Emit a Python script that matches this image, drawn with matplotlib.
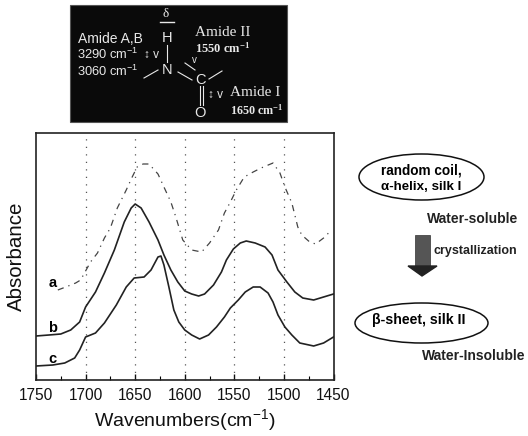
import numpy as np
import matplotlib.pyplot as plt
from matplotlib.patches import Ellipse, Rectangle, Polygon

plt.rcParams['font.family'] = ['Liberation Sans', 'DejaVu Sans']
plt.rcParams['mathtext.fontset'] = 'custom'
plt.rcParams['mathtext.rm'] = 'Liberation Sans'
plt.rcParams['mathtext.default'] = 'regular'

# wavenumber / absorbance (arbitrary units)
wn_a = [1728, 1720, 1710, 1705, 1695, 1688, 1681, 1675, 1668, 1659, 1653, 1648, 1642, 1636, 1627, 1621, 1614, 1609, 1602,
        1593, 1583, 1575, 1566, 1560, 1554, 1548, 1540, 1531, 1523, 1511, 1504, 1499, 1492, 1486, 1482, 1474, 1468, 1460, 1455]
abs_a = [90, 93, 97, 100, 118, 127, 142, 152, 172, 190, 203, 213, 216, 216, 206, 193, 178, 163, 140,
         130, 128, 137, 150, 167, 178, 190, 203, 208, 212, 217, 207, 193, 177, 153, 145, 138, 136, 142, 147]

wn_b = [1750, 1737, 1725, 1715, 1706, 1700, 1690, 1681, 1671, 1661, 1654, 1650, 1644, 1636, 1627, 1621, 1614, 1607,
        1600, 1593, 1586, 1580, 1571, 1563, 1558, 1551, 1544, 1538, 1529, 1519, 1512, 1506, 1497, 1489, 1481, 1470, 1460, 1450]
abs_b = [44, 45, 46, 50, 58, 73, 88, 107, 130, 158, 172, 176, 172, 158, 140, 125, 110, 98,
         89, 86, 84, 86, 95, 108, 120, 131, 137, 139, 137, 133, 125, 110, 98, 88, 82, 80, 83, 86]

wn_c = [1750, 1733, 1721, 1711, 1706, 1700, 1690, 1681, 1669, 1659, 1651, 1641, 1634, 1627, 1624, 1621, 1616, 1611, 1606,
        1600, 1593, 1585, 1576, 1568, 1560, 1554, 1546, 1539, 1531, 1524, 1516, 1511, 1506, 1499, 1492, 1484, 1470, 1460, 1450]
abs_c = [14, 15, 17, 22, 30, 43, 47, 57, 75, 93, 102, 103, 110, 123, 124, 115, 93, 70, 58,
         50, 45, 41, 45, 53, 63, 72, 80, 88, 93, 93, 87, 78, 65, 53, 45, 37, 34, 37, 43]

xticks = [1750, 1700, 1650, 1600, 1550, 1500, 1450]
minor_ticks = [1725, 1675, 1625, 1575, 1525, 1475]
guides = [1700, 1650, 1600, 1550, 1500]
W, H = 528, 436

fig = plt.figure(figsize=(5.28, 4.36), dpi=100)
ax = fig.add_axes([36/W, 1-380/H, 297.5/W, 247/H])

for g in guides:
    ax.vlines(g, 0, 247, color='#555555', linestyle=(0, (1, 5)), linewidth=0.9)
ax.plot(wn_a, abs_a, color='#444444', linestyle=(0, (5, 4, 1, 4)), linewidth=0.9)
ax.plot(wn_b, abs_b, color='#222222', linewidth=1.2)
ax.plot(wn_c, abs_c, color='#222222', linewidth=1.2)

ax.set_xlim(1750, 1450)
ax.set_ylim(0, 247)
ax.set_xticks(xticks)
ax.set_xticks(minor_ticks, minor=True)
ax.set_yticks([])
ax.tick_params(axis='x', which='major', direction='in', length=4, width=1, labelsize=11.2, pad=6, colors='#111111')
ax.tick_params(axis='x', which='minor', direction='in', length=3, width=0.8)
for s in ax.spines.values():
    s.set_linewidth(1.2)
    s.set_color('#222222')
ax.set_xlabel('Wavenumbers(cm$^{-1}$)', fontsize=14, labelpad=3, color='#111111')
ax.set_ylabel('Absorbance', fontsize=14.8, labelpad=7, color='#111111')
ax.text(1733, 97, 'a', fontsize=10.5, fontweight='bold', ha='center', va='center')
ax.text(1733, 52, 'b', fontsize=10.5, fontweight='bold', ha='center', va='center')
ax.text(1733, 21, 'c', fontsize=10.5, fontweight='bold', ha='center', va='center')

# overlay in pixel coordinates for the inset and the scheme
ov = fig.add_axes([0, 0, 1, 1])
ov.set_xlim(0, W)
ov.set_ylim(H, 0)
ov.axis('off')
ov.patch.set_alpha(0)

# molecule inset
ov.add_patch(Rectangle((70, 5), 217, 117, facecolor='#0a0a0a', edgecolor='#555555', linewidth=0.8))
wht = '#e8e8e8'
ov.text(166, 14, 'δ', color=wht, fontsize=9.5, ha='center', va='center', family='Liberation Serif')
ov.plot([160, 174], [22.5, 22.5], color=wht, linewidth=1)
ov.text(167, 38, 'H', color=wht, fontsize=10.5, ha='center', va='center')
ov.text(167, 70, 'N', color=wht, fontsize=10.5, ha='center', va='center')
ov.text(200, 80, 'C', color=wht, fontsize=10.5, ha='center', va='center')
ov.text(200, 113, 'O', color=wht, fontsize=10.5, ha='center', va='center')
ov.text(78, 39, 'Amide A,B', color=wht, fontsize=10, va='center')
ov.text(77, 54, '3290 cm$^{-1}$', color=wht, fontsize=9.3, va='center')
ov.text(77, 71, '3060 cm$^{-1}$', color=wht, fontsize=9.3, va='center')
ov.text(151, 55, '↕ v', color=wht, fontsize=8.5, va='center', ha='center')
ov.text(195, 32, 'Amide II', color=wht, fontsize=11, va='center', family='Liberation Serif')
ov.text(195, 48, '1550 cm$^{-1}$', color=wht, fontsize=9, va='center', fontweight='bold', family='Liberation Serif')
ov.text(230, 93, 'Amide I', color=wht, fontsize=11, va='center', family='Liberation Serif')
ov.text(230, 110, '1650 cm$^{-1}$', color=wht, fontsize=8.7, va='center', fontweight='bold', family='Liberation Serif')
ov.text(216, 95, '↕ v', color=wht, fontsize=8.5, va='center', ha='center')
ov.text(194, 60, 'v', color=wht, fontsize=7, va='center', ha='center')
ov.plot([167, 167], [45, 62], color=wht, linewidth=0.8)
ov.plot([144, 158], [78, 70], color=wht, linewidth=0.8)
ov.plot([178, 192], [72, 80], color=wht, linewidth=0.8)
ov.plot([209, 222], [79, 71], color=wht, linewidth=0.8)
ov.plot([185, 195], [63, 70], color=wht, linewidth=0.8)
ov.plot([200, 200], [86, 105], color=wht, linewidth=0.8)
ov.plot([203, 203], [86, 105], color=wht, linewidth=0.8)

# crystallization scheme
ov.add_patch(Ellipse((421.5, 177), 125, 46, facecolor='white', edgecolor='#111111', linewidth=1.1))
ov.text(421, 170, 'random coil,', fontsize=9.8, fontweight='bold', ha='center', va='center')
ov.text(421, 187, 'α-helix, silk I', fontsize=9.6, fontweight='bold', ha='center', va='center')
ov.text(473, 219, 'Water-soluble', fontsize=10, fontweight='bold', ha='center', va='center', color='#222222')
ov.add_patch(Rectangle((415, 235), 15, 31, facecolor='#555555', edgecolor='#333333', linewidth=0.5))
ov.add_patch(Polygon([(408, 266), (437, 266), (422, 276)], facecolor='#222222', edgecolor='#222222'))
ov.text(433, 251, 'crystallization', fontsize=9, fontweight='bold', va='center', color='#222222')
ov.add_patch(Ellipse((421.5, 323), 133, 40, facecolor='white', edgecolor='#111111', linewidth=1.1))
ov.text(419, 320, 'β-sheet, silk II', fontsize=10.2, fontweight='bold', ha='center', va='center')
ov.text(474, 356, 'Water-Insoluble', fontsize=10, fontweight='bold', ha='center', va='center', color='#222222')

plt.savefig('out.png', dpi=100)
